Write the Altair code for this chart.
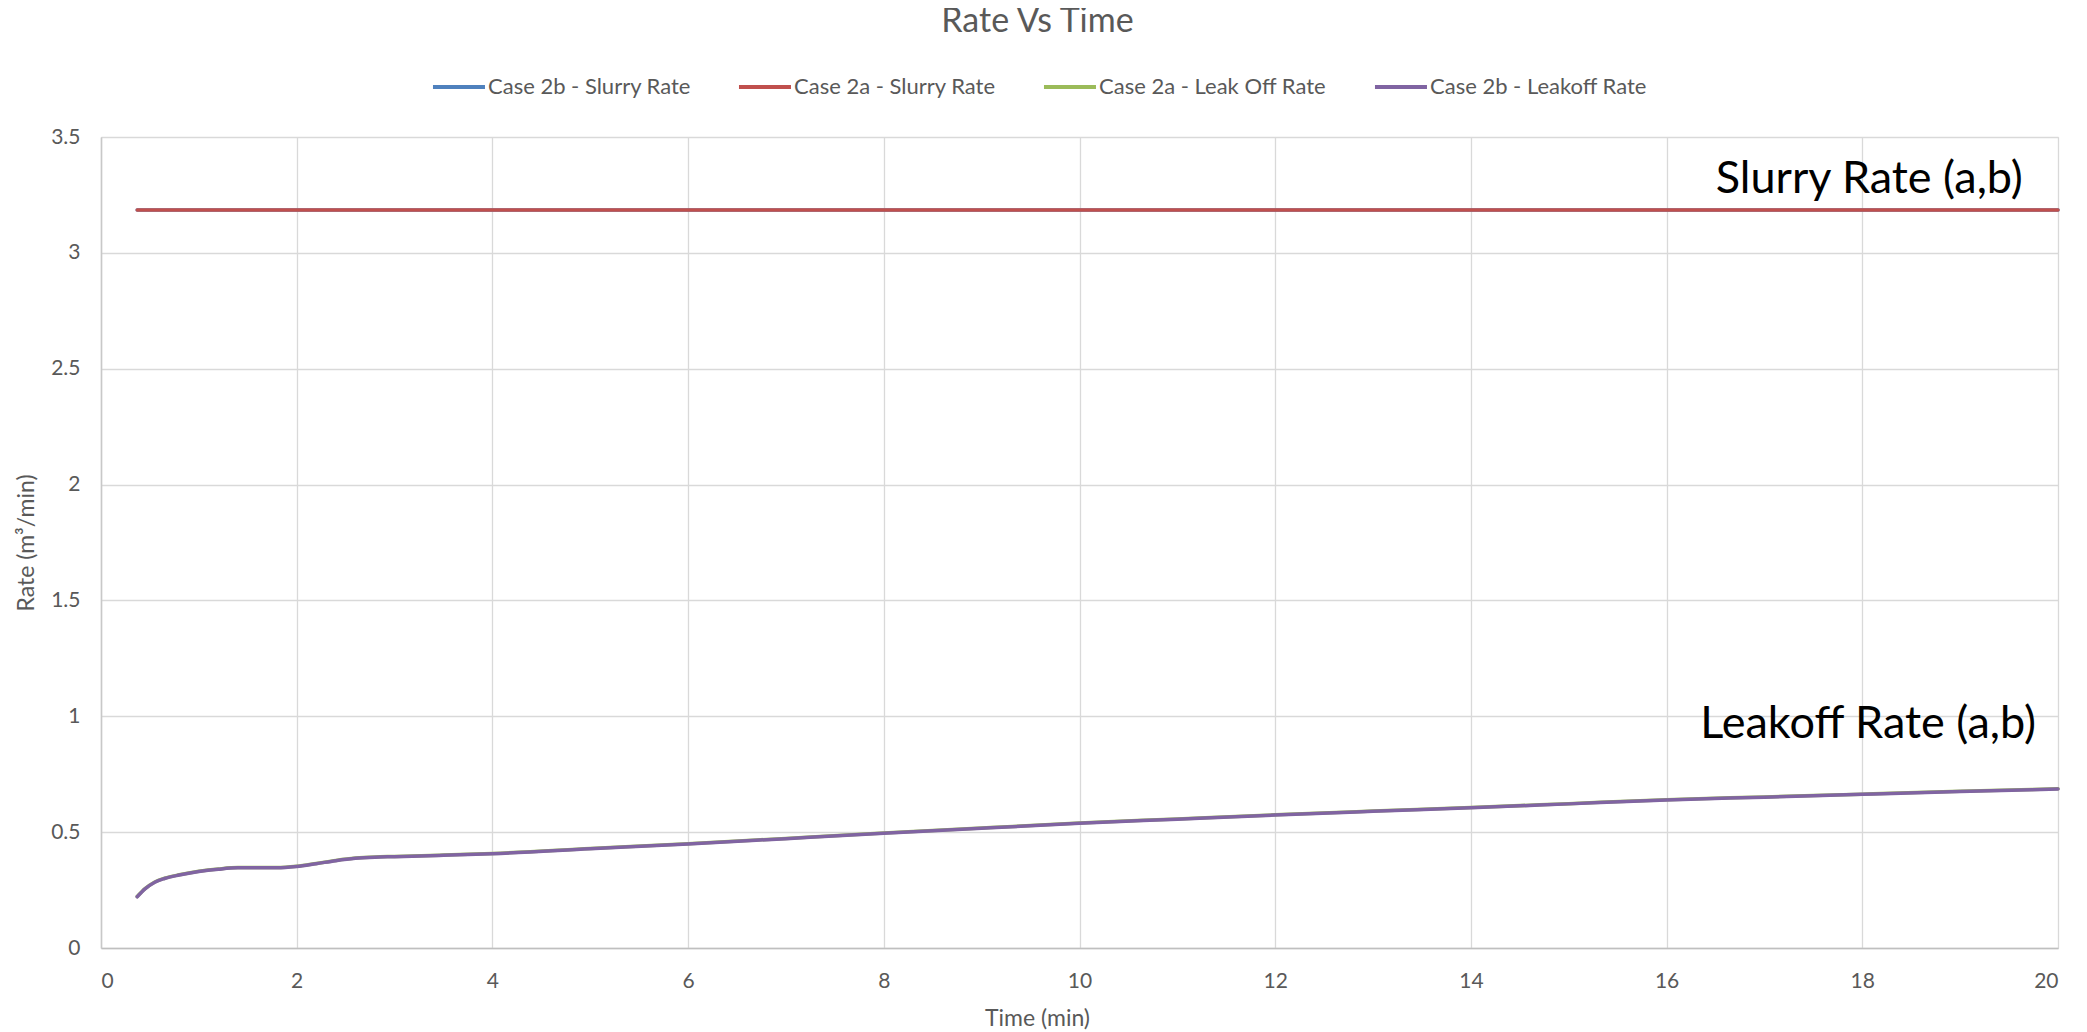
import altair as alt
import pandas as pd

# ---- data ----
chart_title = "Rate Vs Time"
series_names = ["Case 2b - Slurry Rate", "Case 2a - Slurry Rate",
                "Case 2a - Leak Off Rate", "Case 2b - Leakoff Rate"]
series_colors = ["#4F81BD", "#C0504D", "#9BBB59", "#8064A2"]

slurry_time = [0.37, 5.0, 10.0, 15.0, 20.0]
slurry_2b = [3.185, 3.185, 3.185, 3.185, 3.185]
slurry_2a = [3.185, 3.185, 3.185, 3.185, 3.185]

leak_time = [0.37, 0.45, 0.55, 0.65, 0.8, 1.0, 1.2, 1.4, 1.6, 1.8, 2.0, 2.2,
             2.4, 2.6, 2.8, 3.0, 3.5, 4.0, 5.0, 6.0, 7.0, 8.0, 9.0, 10.0,
             11.0, 12.0, 13.0, 14.0, 15.0, 16.0, 17.0, 18.0, 19.0, 20.0]
leak_2a = [0.222, 0.256, 0.285, 0.301, 0.316, 0.331, 0.341, 0.347, 0.347,
           0.347, 0.353, 0.365, 0.378, 0.388, 0.393, 0.395, 0.401, 0.408,
           0.429, 0.450, 0.473, 0.496, 0.518, 0.539, 0.557, 0.575, 0.591,
           0.606, 0.623, 0.640, 0.652, 0.664, 0.676, 0.687]
leak_2b = [0.221, 0.255, 0.284, 0.300, 0.315, 0.330, 0.340, 0.346, 0.346,
           0.346, 0.352, 0.364, 0.377, 0.387, 0.392, 0.394, 0.400, 0.407,
           0.428, 0.449, 0.472, 0.495, 0.517, 0.538, 0.556, 0.574, 0.590,
           0.605, 0.622, 0.639, 0.651, 0.663, 0.675, 0.686]

x_ticks = [0, 2, 4, 6, 8, 10, 12, 14, 16, 18, 20]
y_ticks = [0, 0.5, 1, 1.5, 2, 2.5, 3, 3.5]

ann_text = ["Slurry Rate (a,b)", "Leakoff Rate (a,b)"]
ann_x = [19.64, 19.775]
ann_y = [3.258, 0.906]

# ---- tables ----
frames = []
for name, t, v in [(series_names[0], slurry_time, slurry_2b),
                   (series_names[1], slurry_time, slurry_2a),
                   (series_names[2], leak_time, leak_2a),
                   (series_names[3], leak_time, leak_2b)]:
    frames.append(pd.DataFrame({"time": t, "rate": v, "series": name}))
df = pd.concat(frames, ignore_index=True)
ann = pd.DataFrame({"x": ann_x, "y": ann_y, "label": ann_text})
title_df = pd.DataFrame({"label": [chart_title]})

FONT = "Lato"
GREY = "#595959"

x_enc = alt.X("time:Q",
              scale=alt.Scale(domain=[0, 20], nice=False, zero=False),
              axis=alt.Axis(values=x_ticks, format="~g", title="Time (min)",
                            grid=True, gridColor="#D9D9D9", gridWidth=1.3,
                            domain=True, domainColor="#BFBFBF", domainWidth=1.5,
                            ticks=False, labelFont=FONT, labelFontSize=21,
                            labelColor=GREY, labelPadding=22,
                            titleFont=FONT, titleFontSize=23,
                            titleFontWeight="normal", titleColor=GREY,
                            titleX=936, titleY=77, titleAlign="center",
                            titleBaseline="alphabetic"))
y_enc = alt.Y("rate:Q",
              scale=alt.Scale(domain=[0, 3.5], nice=False),
              axis=alt.Axis(values=y_ticks, format="~g", title="Rate (m³/min)",
                            grid=True, gridColor="#D9D9D9", gridWidth=1.3,
                            domain=True, domainColor="#C8C8C8", domainWidth=1.5,
                            ticks=False, labelFont=FONT, labelFontSize=21,
                            labelColor=GREY, labelPadding=21,
                            titleFont=FONT, titleFontSize=23,
                            titleFontWeight="normal", titleColor=GREY,
                            titleX=-75, titleY=405.5, titleAngle=270,
                            titleAlign="center", titleBaseline="middle"))

color_enc = alt.Color("series:N",
                      scale=alt.Scale(domain=series_names, range=series_colors),
                      sort=series_names,
                      legend=alt.Legend(orient="none", legendX=311, legendY=-78,
                                        direction="horizontal", title=None,
                                        symbolType="M-0.27,0H1.73",
                                        symbolSize=2704,
                                        symbolStrokeWidth=4, labelLimit=0,
                                        labelFont=FONT, labelFontSize=22,
                                        labelColor=GREY, labelOffset=20,
                                        columnPadding=27, columns=4))

layers = []
for name in series_names:
    layers.append(
        alt.Chart(df).transform_filter(alt.datum.series == name)
        .mark_line(strokeWidth=3.5, interpolate="monotone", strokeCap="round")
        .encode(x=x_enc, y=y_enc, color=color_enc)
    )

text_layer = alt.Chart(ann).mark_text(
    align="right", baseline="alphabetic", font=FONT, fontSize=45,
    color="#000000"
).encode(x=alt.X("x:Q"), y=alt.Y("y:Q"), text="label:N")

title_layer = alt.Chart(title_df).mark_text(
    align="center", baseline="alphabetic", font=FONT, fontSize=34,
    color=GREY
).encode(x=alt.value(936.5), y=alt.value(-105), text="label:N")

chart = alt.layer(*layers, text_layer, title_layer).properties(
    width=1957, height=811,
    autosize=alt.AutoSizeParams(type="none"),
    padding={"left": 93, "top": 129, "right": 21, "bottom": 82},
).configure_view(stroke=None).configure(background="white")

chart.save("out.html", embed_options={"renderer": "svg", "actions": False})
